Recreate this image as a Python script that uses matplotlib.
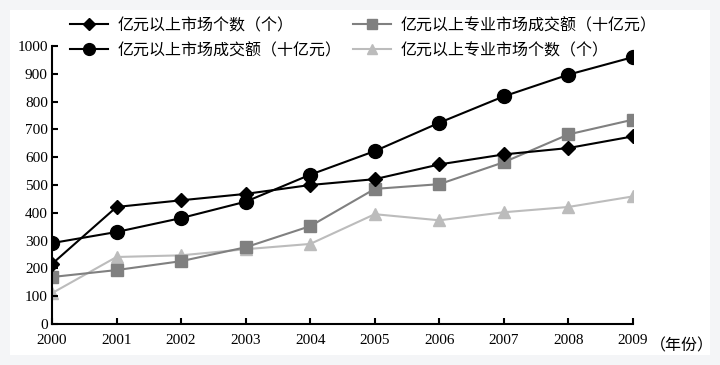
import matplotlib.pyplot as plt
from matplotlib.patches import Rectangle

years = [2000, 2001, 2002, 2003, 2004, 2005, 2006, 2007, 2008, 2009]
market_count = [216, 421, 445, 468, 500, 521, 574, 610, 633, 675]
market_turnover = [291, 331, 381, 440, 537, 622, 724, 819, 897, 960]
special_turnover = [169, 194, 226, 276, 352, 486, 503, 582, 682, 735]
special_count = [111, 241, 247, 269, 288, 395, 373, 402, 421, 459]

labels = ['亿元以上市场个数（个）', '亿元以上市场成交额（十亿元）',
          '亿元以上专业市场成交额（十亿元）', '亿元以上专业市场个数（个）']

serif = ['Liberation Serif', 'Noto Sans CJK SC']
cjk = ['Noto Sans CJK SC', 'DejaVu Sans']

fig = plt.figure(figsize=(7.2, 3.65), dpi=100)
fig.patch.set_facecolor('#f4f5f7')
# white card behind the chart
fig.patches.append(Rectangle((10 / 720, 10 / 365), 700 / 720, 345 / 365,
                             transform=fig.transFigure, facecolor='white',
                             edgecolor='none', zorder=-5))

ax = fig.add_axes([52 / 720, 41 / 365, 581 / 720, 278 / 365])
ax.set_facecolor('none')

ax.plot(years, market_count, color='black', lw=1.5, marker='D', ms=7, label=labels[0], zorder=4)
ax.plot(years, market_turnover, color='black', lw=1.5, marker='o', ms=10, label=labels[1], zorder=3)
ax.plot(years, special_turnover, color='#808080', lw=1.5, marker='s', ms=8, label=labels[2], zorder=2)
ax.plot(years, special_count, color='#bcbcbc', lw=1.5, marker='^', ms=9, label=labels[3], zorder=1)

ax.set_xlim(2000, 2009)
ax.set_ylim(0, 1000)
ax.set_xticks(years)
ax.set_yticks(range(0, 1001, 100))
for s in ['top', 'right']:
    ax.spines[s].set_visible(False)
for s in ['left', 'bottom']:
    ax.spines[s].set_linewidth(1.5)
ax.tick_params(direction='in', length=4, width=1.5, labelsize=11)
ax.tick_params(axis='x', pad=7)
ax.tick_params(axis='y', pad=3)
for t in ax.get_xticklabels() + ax.get_yticklabels():
    t.set_fontfamily(serif)

ax.annotate('（年份）', xy=(2009, 0), xytext=(12, -16), textcoords='offset points',
            ha='left', va='center', fontsize=11.5, family=cjk, annotation_clip=False)

leg = fig.legend(loc='upper left', bbox_to_anchor=(70 / 720, 1 - 17 / 365), ncol=2,
                 frameon=False, borderpad=0, borderaxespad=0, handlelength=2.4,
                 handletextpad=0.55, columnspacing=0.75, labelspacing=0.5,
                 markerscale=0.85, prop={'family': cjk, 'size': 11.5})

fig.savefig('out.png', dpi=100, facecolor=fig.get_facecolor())
